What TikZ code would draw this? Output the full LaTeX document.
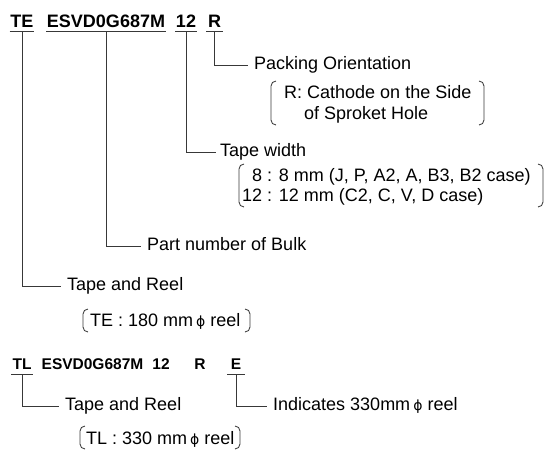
\documentclass[tikz,border=0pt]{standalone}
\usepackage{fontspec}
\setmainfont{Liberation Sans}
\newfontfamily\phifont{DejaVu Sans}
\newcommand\phisym{{\phifont\fontsize{14}{14}\selectfont ϕ}}
\begin{document}
\begin{tikzpicture}[x=1pt,y=-1pt,
  codeA/.style={font=\fontsize{18}{21}\selectfont\bfseries, inner xsep=0.6pt, inner ysep=4pt, anchor=base},
  codeB/.style={font=\fontsize{15.5}{19}\selectfont\bfseries, inner xsep=1pt, inner ysep=5pt, anchor=base},
  lab/.style={font=\fontsize{18}{21}\selectfont, inner sep=0pt, anchor=west, text height=12.9pt, text depth=3.6pt},
  btxt/.style={font=\fontsize{18}{21}\selectfont, inner sep=0pt, anchor=base west},
  conn/.style={draw=black!78, line width=0.85pt},
  uline/.style={draw=black!78, line width=0.85pt},
  paren/.style={draw=black!78, line width=0.85pt, rounded corners=5pt}]
\useasboundingbox (0,0) rectangle (548,451);
% top code row
\node[codeA] (te) at (22,27) {TE};
\node[codeA] (esvd) at (106,27) {ESVD0G687M};
\node[codeA] (tw) at (186,27) {12};
\node[codeA, inner xsep=1.5pt] (r) at (214.5,27) {R};
\foreach \n in {te,esvd,tw,r} \draw[uline] (\n.south west) -- (\n.south east);
% labels
\node[lab] (pack) at (254,65) {Packing Orientation};
\node[lab] (tapew) at (220,152) {Tape width};
\node[lab] (part) at (147,246) {Part number of Bulk};
\node[lab] (reel1) at (67,286) {Tape and Reel};
\draw[conn] (r.south) |- ([xshift=-6pt]pack.west);
\draw[conn] (tw.south) |- ([xshift=-4pt]tapew.west);
\draw[conn] (esvd.south) |- ([xshift=-6pt]part.west);
\draw[conn] (te.south) |- ([xshift=-6pt]reel1.west);
% bracket 1
\node[btxt] (b1a) at (284,98) {R: Cathode on the Side};
\node[btxt] (b1b) at (304,119) {of Sproket Hole};
\draw[paren] (276,81) -- (271,81) -- (271,125) -- (276,125);
\draw[paren] (479,81) -- (484,81) -- (484,125) -- (479,125);
% bracket 2
\node[btxt] (b2a) at (242,181) {\phantom{1}8 : 8 mm (J, P, A2, A, B3, B2 case)};
\node[btxt] (b2b) at (242,201) {12 : 12 mm (C2, C, V, D case)};
\draw[paren] (244,164) -- (239,164) -- (239,207) -- (244,207);
\draw[paren] (538,164) -- (543,164) -- (543,207) -- (538,207);
% bracket 3
\node[btxt] (b3) at (90,326) {TE : 180 mm\,\phisym\ reel};
\draw[paren] (88,309) -- (83,309) -- (83,332) -- (88,332);
\draw[paren] (245,309) -- (250,309) -- (250,332) -- (245,332);
% bottom code row
\node[codeB] (tl) at (22,369) {TL};
\node[codeB] (esvd2) at (92.5,369) {ESVD0G687M};
\node[codeB] (tw2) at (161,369) {12};
\node[codeB] (r2) at (200,369) {R};
\node[codeB, inner xsep=3.5pt] (e2) at (236,369) {E};
\foreach \n in {tl,e2} \draw[uline] (\n.south west) -- (\n.south east);
\node[lab] (reel2) at (65,406) {Tape and Reel};
\node[lab] (ind) at (273,406) {Indicates 330mm\,\phisym\ reel};
\draw[conn] (tl.south) |- ([xshift=-6pt]reel2.west);
\draw[conn] (e2.south) |- ([xshift=-6pt]ind.west);
% bracket 4
\node[btxt] (b4) at (86,444) {TL : 330 mm\,\phisym\ reel};
\draw[paren] (85,426) -- (80,426) -- (80,449) -- (85,449);
\draw[paren] (235,426) -- (240,426) -- (240,449) -- (235,449);
\end{tikzpicture}
\end{document}
